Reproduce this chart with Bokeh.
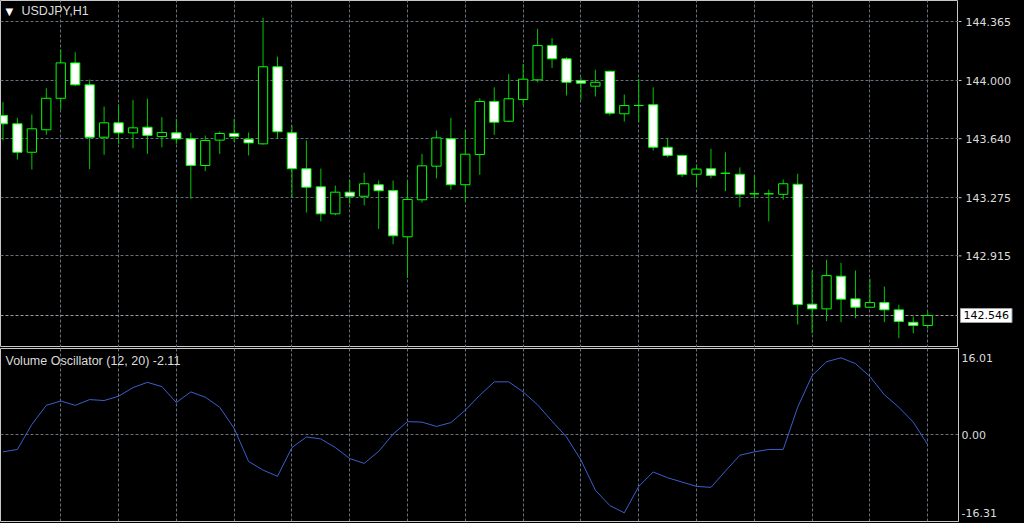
from bokeh.plotting import figure
from bokeh.layouts import column, row
from bokeh.models import (ColumnDataSource, Range1d, FixedTicker, Label, Span,
                          GlobalInlineStyleSheet)
from bokeh.core.properties import value
from bokeh.embed import file_html
from bokeh.resources import INLINE

symbol = "USDJPY,H1"
osc_name = "Volume Oscillator (12, 20)"

open_ = [143.783, 143.732, 143.556, 143.695, 143.890, 144.109, 143.973, 143.649, 143.738, 143.676,
         143.711, 143.653, 143.676, 143.639, 143.474, 143.631, 143.672, 143.637, 143.608, 144.085,
         143.676, 143.454, 143.342, 143.175, 143.309, 143.284, 143.355, 143.319, 143.033, 143.262,
         143.470, 143.639, 143.355, 143.542, 143.870, 143.748, 143.882, 144.004, 144.216, 144.134,
         144.000, 143.965, 144.057, 143.794, 143.845, 143.850, 143.587, 143.536, 143.420, 143.454,
         143.426, 143.420, 143.299, 143.299, 143.296, 143.358, 142.616, 142.587, 142.789, 142.649,
         142.597, 142.626, 142.581, 142.504, 142.484]
high = [143.866, 143.769, 143.790, 143.952, 144.192, 144.175, 144.006, 143.839, 143.851, 143.880,
        143.887, 143.773, 143.763, 143.676, 143.660, 143.684, 143.763, 143.678, 144.388, 144.148,
        143.722, 143.629, 143.455, 143.350, 143.386, 143.429, 143.381, 143.381, 143.381, 143.546,
        143.691, 143.769, 143.695, 143.890, 143.958, 144.041, 144.103, 144.320, 144.262, 144.144,
        144.020, 144.066, 144.060, 143.913, 144.010, 143.958, 143.645, 143.540, 143.480, 143.577,
        143.556, 143.462, 143.412, 143.325, 143.387, 143.423, 142.824, 142.891, 142.872, 142.824,
        142.773, 142.725, 142.612, 142.540, 142.566]
low = [143.629, 143.511, 143.449, 143.664, 143.819, 143.965, 143.451, 143.540, 143.608, 143.581,
       143.546, 143.587, 143.608, 143.268, 143.439, 143.546, 143.618, 143.536, 143.604, 143.639,
       143.274, 143.183, 143.128, 143.166, 143.237, 143.227, 143.082, 142.987, 142.779, 143.245,
       143.395, 143.324, 143.251, 143.416, 143.664, 143.742, 143.847, 143.989, 144.078, 143.907,
       143.882, 143.901, 143.783, 143.746, 143.742, 143.567, 143.525, 143.402, 143.340, 143.395,
       143.315, 143.216, 143.268, 143.128, 143.262, 142.490, 142.436, 142.511, 142.505, 142.529,
       142.597, 142.505, 142.406, 142.436, 142.464]
close = [143.732, 143.556, 143.701, 143.890, 144.109, 143.973, 143.649, 143.738, 143.676, 143.707,
         143.660, 143.678, 143.639, 143.474, 143.629, 143.672, 143.653, 143.614, 144.085, 143.683,
         143.454, 143.340, 143.175, 143.309, 143.284, 143.361, 143.318, 143.039, 143.264, 143.472,
         143.645, 143.355, 143.544, 143.870, 143.742, 143.887, 144.008, 144.216, 144.134, 143.989,
         143.983, 143.989, 143.798, 143.845, 143.846, 143.587, 143.536, 143.418, 143.452, 143.412,
         143.426, 143.296, 143.299, 143.299, 143.361, 142.614, 142.587, 142.793, 142.647, 142.597,
         142.626, 142.581, 142.509, 142.484, 142.546]
vo = [-3.6, -3.1, 2.1, 6.1, 7.0, 6.1, 7.3, 7.1, 8.0, 9.8,
      10.9, 10.0, 6.7, 8.9, 7.8, 5.7, 1.3, -5.6, -7.4, -8.7,
      -2.7, -0.5, -0.9, -2.7, -5.0, -6.0, -3.5, 0.1, 2.7, 2.6,
      1.7, 2.5, 5.1, 8.2, 11.0, 11.0, 8.9, 6.2, 2.8, -0.5,
      -5.3, -11.6, -14.8, -16.31, -10.8, -7.8, -9.0, -9.9, -10.8, -11.0,
      -7.6, -4.3, -3.6, -3.1, -3.1, 5.7, 12.3, 15.2, 16.01, 14.8,
      12.1, 8.3, 5.7, 2.6, -2.11]

price_ticks = [142.915, 143.275, 143.640, 144.000, 144.365]
price_tick_labels = ["142.915", "143.275", "143.640", "144.000", "144.365"]
osc_ticks = [-16.31, 0.0, 16.01]
osc_tick_labels = ["-16.31", "0.00", "16.01"]

idx = list(range(len(close)))
bull = [c >= o for o, c in zip(open_, close)]
src = ColumnDataSource(dict(
    x=idx, high=high, low=low,
    top=[max(o, c) for o, c in zip(open_, close)],
    bottom=[min(o, c) for o, c in zip(open_, close)],
    fill=["black" if b else "white" for b in bull],
))

GRID = "#66707e"
BORDER = "#c8c8c8"
TXT = "#dcdcdc"
vgrid = list(range(4, len(close) + 1, 4))

# ---- main price panel (frame only) ----
p = figure(width=958, height=347, x_range=Range1d(-0.17, 66.13),
           y_range=Range1d(142.348, 144.495), output_backend="svg",
           toolbar_location=None, x_axis_location=None, y_axis_location=None,
           min_border_left=0, min_border_right=0, min_border_top=0, min_border_bottom=0,
           background_fill_color="black", border_fill_color="black",
           outline_line_color=BORDER)
p.xgrid.ticker = FixedTicker(ticks=vgrid)
p.ygrid.ticker = FixedTicker(ticks=price_ticks)
p.grid.grid_line_color = GRID
p.grid.grid_line_dash = "3 2"
p.add_layout(Span(location=close[-1], dimension="width", line_color="#9aa0a8",
                  line_dash="3 2", line_width=1, level="underlay"))
p.segment(x0="x", y0="high", x1="x", y1="low", source=src, line_color="#00c800", line_width=1)
p.vbar(x="x", width=0.64, top="top", bottom="bottom", source=src,
       fill_color="fill", line_color="#00ff00", line_width=1)
p.add_layout(Label(x=5, y=336.5, x_units="screen", y_units="screen", text="\u25bc",
                   text_color="white", text_font="DejaVu Sans", text_font_size="10px",
                   text_baseline="middle"))
p.add_layout(Label(x=21, y=336.5, x_units="screen", y_units="screen", text=symbol,
                   text_color=TXT, text_font="Liberation Sans", text_font_size="12.5px",
                   text_baseline="middle"))

# ---- price scale panel (shares the price range) ----
s = figure(width=66, height=347, x_range=Range1d(0, 66), y_range=p.y_range,
           output_backend="svg", toolbar_location=None, x_axis_location=None,
           y_axis_location=None, min_border_left=0, min_border_right=0,
           min_border_top=0, min_border_bottom=0,
           background_fill_color="black", border_fill_color="black",
           outline_line_color=None)
s.grid.visible = False
s.segment(x0=0, x1=3, y0=price_ticks, y1=price_ticks, line_color=BORDER, line_width=1)
s.text(x=7, y=price_ticks, text=price_tick_labels, text_color=TXT,
       text_font=value("DejaVu Sans"), text_font_size="11px", text_baseline="middle")
s.add_layout(Label(x=2, y=close[-1], x_units="screen", y_units="data",
                   text=f"{close[-1]:.3f}", text_color="black",
                   text_font="DejaVu Sans", text_font_size="11px",
                   text_baseline="middle", background_fill_color="white",
                   border_line_color="#a0a0a0", padding=3))

# ---- oscillator panel ----
q = figure(width=1024, height=176, x_range=p.x_range, y_range=Range1d(-18.12, 17.95),
           output_backend="svg", toolbar_location=None, x_axis_location=None,
           y_axis_location="right", min_border_left=0, min_border_right=66,
           min_border_top=1, min_border_bottom=2,
           background_fill_color="black", border_fill_color="black",
           outline_line_color=BORDER)
q.xgrid.ticker = FixedTicker(ticks=vgrid)
q.ygrid.ticker = FixedTicker(ticks=[0.0])
q.grid.grid_line_color = GRID
q.grid.grid_line_dash = "3 2"
q.line(idx, vo, line_color="#3a5fcd", line_width=1)
bx = q.yaxis[0]
bx.ticker = FixedTicker(ticks=osc_ticks)
bx.major_label_overrides = {t: s_ for t, s_ in zip(osc_ticks, osc_tick_labels)}
bx.axis_line_color = BORDER
bx.major_tick_out = 0
bx.major_tick_in = 0
bx.minor_tick_out = 0
bx.minor_tick_in = 0
bx.major_label_standoff = 3
bx.major_label_text_color = TXT
bx.major_label_text_font = "DejaVu Sans"
bx.major_label_text_font_size = "11px"
q.add_layout(Label(x=5, y=161, x_units="screen", y_units="screen",
                   text=f"{osc_name} {vo[-1]:.2f}", text_color=TXT,
                   text_font="Liberation Sans", text_font_size="12.5px",
                   text_baseline="middle"))

layout = column(row(p, s, spacing=0), q, spacing=0, stylesheets=[GlobalInlineStyleSheet(
    css="html, body { margin: 0 !important; padding: 0; background: #000; overflow: hidden; }")])

open("out.html", "w").write(file_html(layout, INLINE))
